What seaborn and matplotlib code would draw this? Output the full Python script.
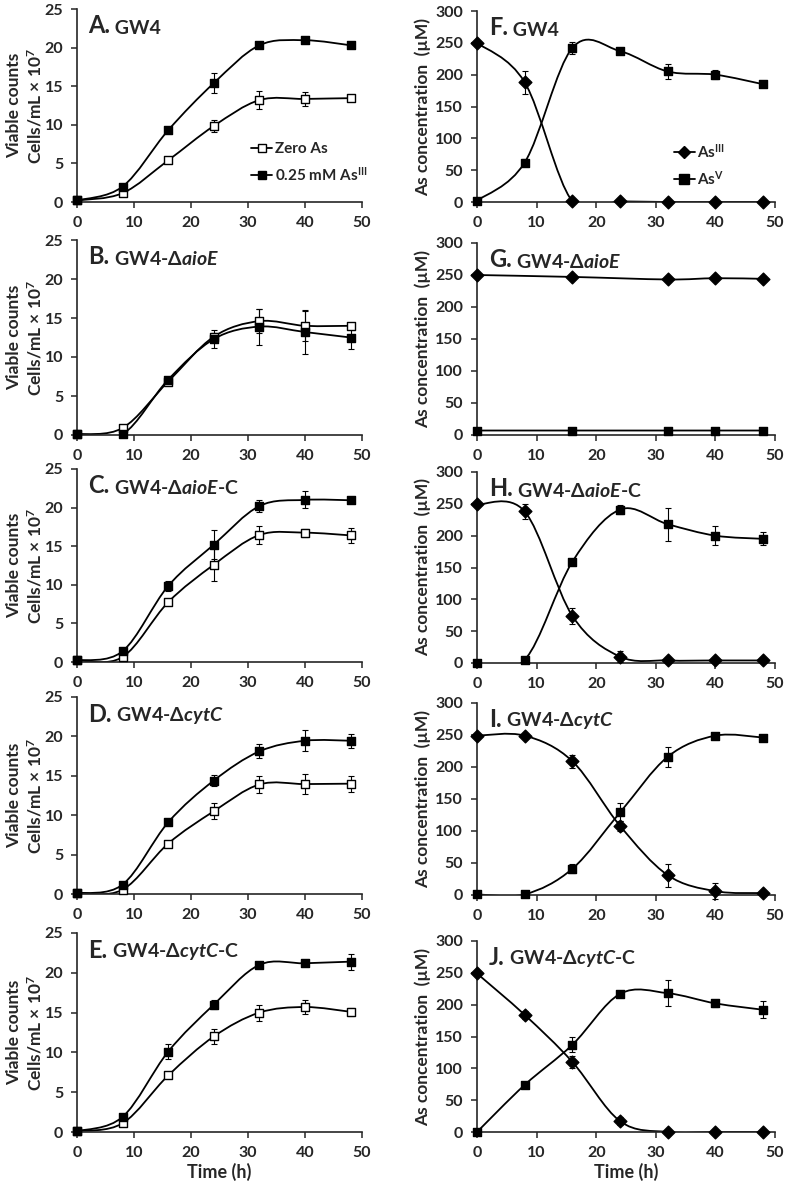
import numpy as np
import pandas as pd
import matplotlib
matplotlib.use('Agg')
import matplotlib.pyplot as plt
import seaborn as sns
from matplotlib.path import Path
from matplotlib.patches import PathPatch
from matplotlib.lines import Line2D

# %%%%%%%%%%%%%%%%%%%%%%%%%%%%%%%%%%%%%%%%%%%%%%%%%%%%%%%%%%%%%%%%%%%%%%%%%%%%%
#                         DATA
# %%%%%%%%%%%%%%%%%%%%%%%%%%%%%%%%%%%%%%%%%%%%%%%%%%%%%%%%%%%%%%%%%%%%%%%%%%%%%
time_h = [0, 8, 16, 24, 32, 40, 48]
time_g = [0, 16, 32, 40, 48]  # panel G was sampled at fewer times

# growth curves (viable counts, cells/mL x 10^7)
A_zero = [0.2, 1.15, 5.4, 9.85, 13.2, 13.35, 13.45]
A_zero_err = [0.1, 0.2, 0.3, 0.8, 1.2, 0.95, 0.3]
A_as3 = [0.2, 2.0, 9.3, 15.4, 20.3, 20.95, 20.3]
A_as3_err = [0.1, 0.3, 0.4, 1.3, 0.3, 0.3, 0.3]

B_zero = [0.1, 0.9, 6.85, 12.6, 14.6, 14.0, 14.0]
B_zero_err = [0.1, 0.2, 0.4, 0.5, 1.5, 1.9, 0.3]
B_as3 = [0.1, 0.1, 7.1, 12.3, 13.9, 13.2, 12.5]
B_as3_err = [0.1, 0.1, 0.4, 1.2, 2.3, 2.8, 1.5]

C_zero = [0.2, 0.65, 7.75, 12.6, 16.45, 16.75, 16.4]
C_zero_err = [0.1, 0.2, 0.3, 2.15, 1.2, 0.5, 1.0]
C_as3 = [0.2, 1.4, 9.85, 15.2, 20.2, 21.0, 20.95]
C_as3_err = [0.1, 0.2, 0.6, 1.9, 0.8, 1.1, 0.3]

D_zero = [0.1, 0.55, 6.4, 10.5, 13.9, 13.95, 14.0]
D_zero_err = [0.1, 0.1, 0.3, 1.0, 1.1, 1.3, 1.0]
D_as3 = [0.1, 1.2, 9.1, 14.4, 18.1, 19.45, 19.45]
D_as3_err = [0.1, 0.2, 0.4, 0.7, 0.9, 1.3, 0.9]

E_zero = [0.1, 1.1, 7.1, 12.0, 15.0, 15.7, 15.1]
E_zero_err = [0.1, 0.2, 0.3, 0.9, 1.0, 0.85, 0.5]
E_as3 = [0.1, 1.9, 10.1, 16.0, 21.0, 21.2, 21.4]
E_as3_err = [0.1, 0.2, 0.9, 0.6, 0.3, 0.3, 1.0]

# arsenic speciation (uM)
F_as3 = [250, 188, 1, 1, 0, 0, 0]
F_as3_err = [3, 18, 1, 1, 1, 1, 1]
F_as5 = [2, 62, 242, 237, 205, 200, 185]
F_as5_err = [2, 6, 10, 5, 12, 7, 4]

G_as3 = [250, 247, 243, 245, 244]
G_as3_err = [2, 3, 3, 3, 4]
G_as5 = [7, 7, 7, 7, 7]
G_as5_err = [1, 1, 1, 1, 1]

H_as3 = [249, 238, 74, 10, 4, 4, 4]
H_as3_err = [2, 12, 13, 9, 2, 2, 2]
H_as5 = [0, 5, 159, 241, 218, 200, 195]
H_as5_err = [1, 2, 3, 7, 26, 15, 10]

I_as3 = [249, 249, 209, 108, 31, 6, 3]
I_as3_err = [2, 2, 10, 8, 18, 13, 2]
I_as5 = [1, 1, 41, 129, 216, 249, 246]
I_as5_err = [1, 1, 7, 14, 16, 3, 3]

J_as3 = [249, 184, 110, 17, 0, 0, 0]
J_as3_err = [2, 6, 10, 6, 1, 1, 1]
J_as5 = [0, 74, 137, 217, 218, 202, 192]
J_as5_err = [1, 3, 12, 3, 20, 5, 13]

strain_names = ['GW4', 'GW4-Δ$aioE$', 'GW4-Δ$aioE$-C', 'GW4-Δ$cytC$', 'GW4-Δ$cytC$-C']
growth_letters = ['A', 'B', 'C', 'D', 'E']
arsenic_letters = ['F', 'G', 'H', 'I', 'J']

# %%%%%%%%%%%%%%%%%%%%%%%%%%%%%%%%%%%%%%%%%%%%%%%%%%%%%%%%%%%%%%%%%%%%%%%%%%%%%
#                         STYLE
# %%%%%%%%%%%%%%%%%%%%%%%%%%%%%%%%%%%%%%%%%%%%%%%%%%%%%%%%%%%%%%%%%%%%%%%%%%%%%
sns.set_theme(style="ticks")
plt.rcParams['font.family'] = ['Lato', 'DejaVu Sans']
plt.rcParams['font.weight'] = 'bold'
plt.rcParams['mathtext.fontset'] = 'custom'
plt.rcParams['mathtext.rm'] = 'Lato:bold'
plt.rcParams['mathtext.bf'] = 'Lato:bold'
plt.rcParams['mathtext.it'] = 'Lato:italic:bold'
plt.rcParams['axes.linewidth'] = 1.2


def smooth_path(x, y):
    # Excel-like smoothed line: cubic Bezier segments with Catmull-Rom handles
    pts = np.column_stack([x, y]).astype(float)
    n = len(pts)
    verts, codes = [pts[0]], [Path.MOVETO]
    for i in range(n - 1):
        p0 = pts[i - 1] if i > 0 else pts[i]
        p1, p2 = pts[i], pts[i + 1]
        p3 = pts[i + 2] if i + 2 < n else pts[i + 1]
        verts += [p1 + (p2 - p0) / 6, p2 - (p3 - p1) / 6, p2]
        codes += [Path.CURVE4] * 3
    return Path(verts, codes)


def draw_series(ax, x, y, err, marker, face, size):
    ax.add_patch(PathPatch(smooth_path(x, y), fill=False, edgecolor='black', lw=1.3, zorder=2))
    ax.errorbar(x, y, yerr=err, fmt='none', ecolor='black', elinewidth=0.8,
                capsize=2.5, capthick=0.8, zorder=3, clip_on=False)
    sns.scatterplot(x=x, y=y, ax=ax, marker=marker, s=size, color=face,
                    edgecolor='black', linewidth=1.0, zorder=4, clip_on=False, legend=False)


def style_axes(ax, ymax, ystep):
    ax.set_xlim(0, 50)
    ax.set_ylim(0, ymax)
    ax.set_xticks(np.arange(0, 51, 10))
    ax.set_yticks(np.arange(0, ymax + 1, ystep))
    ax.tick_params(direction='out', length=4, width=1.1, labelsize=11.5)
    ax.tick_params(axis='x', pad=6)
    ax.tick_params(axis='y', pad=6)
    sns.despine(ax=ax)
    ax.set_xlabel('')


def panel_title(ax, letter, name):
    t1 = ax.text(0.04, 0.875, letter + '.', transform=ax.transAxes, fontsize=17,
                 fontweight='bold', va='baseline')
    ax.annotate(' ' + name, xy=(1, 0), xycoords=t1, va='bottom', fontsize=14,
                fontweight='bold')


fig = plt.figure(figsize=(7.87, 11.87), dpi=100)
W, H = 787, 1187
left_boxes = [(77, 9, 362, 202), (77, 240, 362, 435), (77, 469, 362, 662),
              (77, 697, 362, 894), (77, 933, 362, 1132)]
right_boxes = [(477, 11, 775, 202), (477, 243, 775, 435), (477, 472, 775, 663),
               (477, 703, 775, 895), (477, 941, 775, 1132)]


def add_axes(box):
    x0, y0, x1, y1 = box
    return fig.add_axes([x0 / W, 1 - y1 / H, (x1 - x0) / W, (y1 - y0) / H])


growth = [(A_zero, A_zero_err, A_as3, A_as3_err), (B_zero, B_zero_err, B_as3, B_as3_err),
          (C_zero, C_zero_err, C_as3, C_as3_err), (D_zero, D_zero_err, D_as3, D_as3_err),
          (E_zero, E_zero_err, E_as3, E_as3_err)]
arsenic = [(time_h, F_as3, F_as3_err, F_as5, F_as5_err), (time_g, G_as3, G_as3_err, G_as5, G_as5_err),
           (time_h, H_as3, H_as3_err, H_as5, H_as5_err), (time_h, I_as3, I_as3_err, I_as5, I_as5_err),
           (time_h, J_as3, J_as3_err, J_as5, J_as5_err)]

for i in range(5):
    # growth curves
    ax = add_axes(left_boxes[i])
    zero, zero_err, as3, as3_err = growth[i]
    draw_series(ax, time_h, zero, zero_err, 's', 'white', 32)
    draw_series(ax, time_h, as3, as3_err, 's', 'black', 32)
    style_axes(ax, 25, 5)
    ax.set_ylabel('Viable counts\nCells/mL × 10$^{7}$', fontsize=12.5, fontweight='bold',
                  linespacing=1.25)
    ax.yaxis.set_label_coords(-0.115, 0.5)
    panel_title(ax, growth_letters[i], strain_names[i])
    if i == 0:
        handles = [Line2D([], [], color='black', lw=1.3, marker='s', markersize=6,
                          markerfacecolor='white', markeredgecolor='black'),
                   Line2D([], [], color='black', lw=1.3, marker='s', markersize=6,
                          markerfacecolor='black', markeredgecolor='black')]
        ax.legend(handles, ['Zero As', '0.25 mM As$^{\\rm III}$'], loc='upper left',
                  bbox_to_anchor=(0.61, 0.31), frameon=False, handlelength=1.4,
                  handletextpad=0.15, labelspacing=0.6, borderpad=0, borderaxespad=0,
                  prop={'size': 11, 'weight': 'bold'})
    if i == 4:
        ax.set_xlabel('Time (h)', fontsize=13, fontweight='bold', labelpad=2)

    # arsenic speciation
    ax = add_axes(right_boxes[i])
    t, as3, as3_err, as5, as5_err = arsenic[i]
    draw_series(ax, t, as3, as3_err, 'D', 'black', 42)
    draw_series(ax, t, as5, as5_err, 's', 'black', 36)
    style_axes(ax, 300, 50)
    ax.set_ylabel('As concentration  (µM)', fontsize=12.5, fontweight='bold')
    ax.yaxis.set_label_coords(-0.155, 0.5)
    panel_title(ax, arsenic_letters[i], strain_names[i])
    if i == 0:
        handles = [Line2D([], [], color='black', lw=1.3, marker='D', markersize=6.5,
                          markerfacecolor='black', markeredgecolor='black'),
                   Line2D([], [], color='black', lw=1.3, marker='s', markersize=6.5,
                          markerfacecolor='black', markeredgecolor='black')]
        ax.legend(handles, ['As$^{\\rm III}$', 'As$^{\\rm V}$'], loc='upper left',
                  bbox_to_anchor=(0.66, 0.31), frameon=False, handlelength=1.4,
                  handletextpad=0.15, labelspacing=0.6, borderpad=0, borderaxespad=0,
                  prop={'size': 11, 'weight': 'bold'})
    if i == 4:
        ax.set_xlabel('Time (h)', fontsize=13, fontweight='bold', labelpad=2)

fig.savefig('out.png', dpi=100)
